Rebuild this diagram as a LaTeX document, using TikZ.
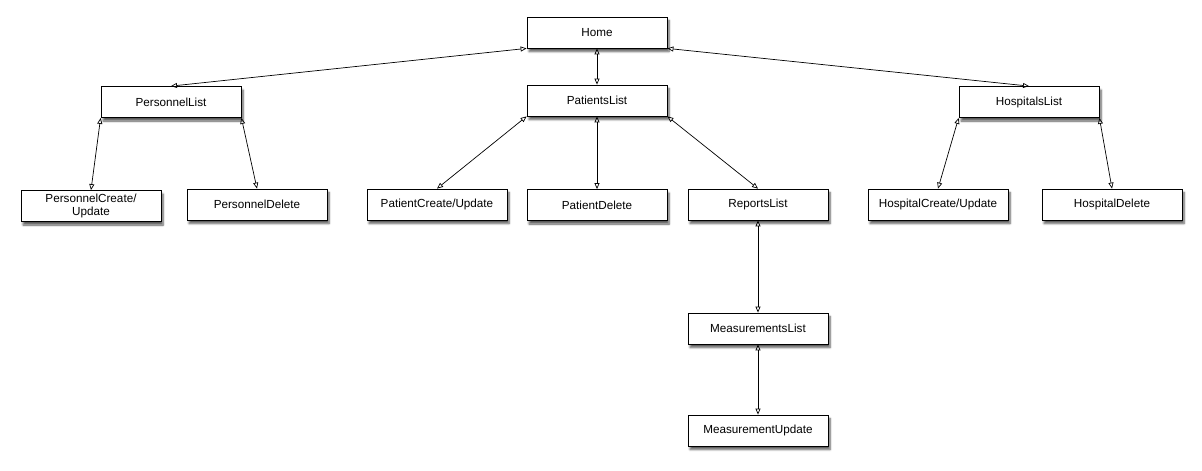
\documentclass[tikz,border=0pt]{standalone}
\usepackage{fontspec}
\setmainfont{Liberation Sans}
\usepackage{tikz}
\usetikzlibrary{arrows.meta,shapes,positioning,shadows.blur}

\tikzset{
  PageStyle/.style={draw, line width=0.8pt, fill=white, minimum width=140pt,
    minimum height=31pt, align=center, font=\fontsize{11.7}{13}\selectfont,
    blur shadow={shadow xshift=2pt, shadow yshift=-3.5pt, shadow blur steps=6, shadow opacity=65}},
  LinkStyle/.style={line width=0.7pt,
    {Triangle[open,length=6pt,width=5pt]}-{Triangle[open,length=6pt,width=5pt]}}
}

\begin{document}
\begin{tikzpicture}[x=1pt,y=-1pt]
  \useasboundingbox (0,0) rectangle (1202,471);

    \node[PageStyle] (home)      at (597,32.5)  {Home};
    \node[PageStyle] (perlist)   at (171,102)   {PersonnelList};
    \node[PageStyle] (patlist)   at (597,100.5) {PatientsList};
    \node[PageStyle] (hosplist)  at (1029,102)  {HospitalsList};
    \node[PageStyle] (percreate) at (91,206)    {PersonnelCreate/\\Update};
    \node[PageStyle] (perdel)    at (257,204.5) {PersonnelDelete};
    \node[PageStyle] (patcreate) at (437,204.5) {PatientCreate/Update};
    \node[PageStyle] (patdel)    at (597,205)   {PatientDelete};
    \node[PageStyle] (replist)   at (758,204.5) {ReportsList};
    \node[PageStyle] (hospcreate) at (938,204.5) {HospitalCreate/Update};
    \node[PageStyle] (hospdel)   at (1112,204.5) {HospitalDelete};
    \node[PageStyle] (measlist)  at (758,328.5) {MeasurementsList};
    \node[PageStyle] (measupd)   at (758,430.5) {MeasurementUpdate};

  % home
  \draw[LinkStyle] (home.south west) -- (perlist.north);
  \draw[LinkStyle] (home.south) -- (patlist.north);
  \draw[LinkStyle] (home.south east) -- (hosplist.north);

  % personnel
  \draw[LinkStyle] (perlist.south west) -- (percreate.north);
  \draw[LinkStyle] (perlist.south east) -- (perdel.north);

  % patients
  \draw[LinkStyle] (patlist.south west) -- (patcreate.north);
  \draw[LinkStyle] (patlist.south) -- (patdel.north);
  \draw[LinkStyle] (patlist.south east) -- (replist.north);

  % reports
  \draw[LinkStyle] (replist.south) -- (measlist.north);
  \draw[LinkStyle] (measlist.south) -- (measupd.north);

  % hospitals
  \draw[LinkStyle] (hosplist.south west) -- (hospcreate.north);
  \draw[LinkStyle] (hosplist.south east) -- (hospdel.north);

\end{tikzpicture}
\end{document}
